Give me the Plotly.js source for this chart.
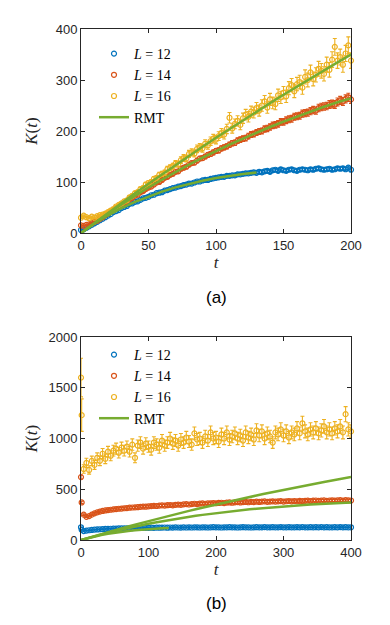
<!DOCTYPE html>
<html>
<head>
<meta charset="utf-8">
<script src="https://cdn.plot.ly/plotly-3.0.1.min.js"></script>
<style>
  body { margin: 0; background: #fff; }
  #grafico { width: 390px; height: 625px; }
</style>
</head>
<body>
<div id="grafico"></div>
<script>
// panel (a): t = 0, 2, ..., 200
const blueA = [
  6, 7, 10, 13, 16, 19, 22, 25, 28, 31,
  34, 37, 41, 43, 45, 49, 51, 53, 57, 58,
  61, 62, 65, 68, 69, 71, 74, 75, 78, 79,
  80, 83, 84, 86, 88, 89, 91, 92, 94, 95,
  97, 97, 99, 101, 101, 103, 104, 104, 106, 107,
  108, 109, 110, 110, 112, 112, 113, 113, 115, 115,
  116, 117, 117, 118, 119, 118, 120, 119, 121, 122,
  120, 123, 124, 122, 125, 123, 122, 124, 125, 123,
  122, 124, 125, 124, 123, 125, 124, 126, 127, 125,
  124, 125, 126, 124, 125, 127, 126, 127, 125, 128,
  124];
const redA = [
  15, 14, 16, 17, 19, 22, 24, 28, 31, 35,
  38, 42, 45, 49, 52, 56, 58, 63, 66, 69,
  73, 75, 80, 82, 86, 89, 91, 95, 99, 100,
  104, 108, 110, 114, 116, 120, 121, 126, 128, 130,
  134, 137, 138, 142, 146, 147, 150, 153, 155, 158,
  161, 162, 166, 168, 170, 173, 176, 177, 181, 183,
  185, 186, 190, 193, 194, 197, 199, 200, 204, 205,
  208, 211, 212, 214, 218, 218, 221, 223, 224, 228,
  229, 230, 234, 235, 236, 239, 241, 240, 245, 247,
  248, 249, 252, 253, 252, 257, 260, 258, 263, 266,
  262];
const yellowA = [
  30, 34, 31, 29, 32, 30, 33, 35, 36, 38,
  41, 44, 47, 52, 55, 58, 62, 64, 70, 73,
  78, 80, 86, 88, 95, 98, 100, 106, 108, 114,
  116, 118, 125, 128, 131, 136, 135, 143, 147, 146,
  155, 158, 156, 165, 168, 166, 175, 172, 180, 185,
  183, 190, 196, 193, 204, 226, 205, 214, 220, 212,
  225, 232, 228, 238, 236, 245, 240, 250, 258, 246,
  262, 255, 253, 270, 266, 275, 268, 284, 290, 278,
  292, 296, 285, 306, 300, 315, 302, 310, 322, 318,
  312, 330, 320, 340, 365, 338, 345, 330, 352, 368,
  338];

// panel (b): first two times apart, then t = 4, 8, ..., 400
const tEarlyB = [0, 1];
const blueEarlyB = [125, 100];
const redEarlyB = [620, 370];
const yellowEarlyB = [1600, 1230];
const yellowEarlyErrB = [190, 160];
const blueB = [
  88, 92, 96, 99, 102, 104, 106, 107, 109, 110,
  111, 112, 113, 114, 115, 115, 116, 117, 117, 118,
  118, 119, 119, 120, 120, 121, 120, 122, 121, 122,
  123, 121, 123, 122, 124, 123, 122, 124, 123, 125,
  123, 124, 125, 123, 124, 125, 123, 124, 126, 124,
  125, 123, 125, 124, 126, 124, 125, 123, 125, 126,
  124, 125, 123, 125, 126, 124, 125, 127, 124, 125,
  126, 124, 125, 127, 125, 124, 126, 125, 124, 126,
  125, 127, 124, 125, 126, 124, 126, 125, 127, 124,
  126, 125, 124, 126, 125, 127, 125, 126, 124, 125];
const redB = [
  250, 228, 235, 250, 262, 272, 280, 286, 291, 295,
  298, 302, 305, 308, 310, 313, 315, 318, 320, 322,
  323, 327, 329, 328, 332, 334, 336, 335, 339, 341,
  339, 343, 345, 342, 347, 349, 346, 351, 353, 350,
  354, 357, 354, 359, 360, 357, 362, 361, 364, 362,
  365, 367, 364, 368, 370, 367, 371, 373, 370, 374,
  375, 372, 376, 374, 378, 375, 378, 380, 376, 379,
  381, 378, 381, 383, 379, 382, 384, 381, 384, 382,
  386, 383, 386, 388, 384, 387, 389, 385, 388, 390,
  386, 389, 391, 387, 390, 392, 388, 392, 390, 389];
const yellowB = [
  700, 760, 690, 780, 740, 810, 780, 850, 800, 870,
  830, 880, 900, 860, 910, 880, 920, 870, 940, 810,
  930, 960, 900, 950, 920, 890, 960, 940, 910, 980,
  930, 960, 1000, 950, 980, 930, 990, 960, 1010, 970,
  940, 1050, 990, 1000, 960, 1020, 980, 1060, 1000, 1010,
  970, 1040, 1000, 1060, 990, 1020, 1050, 1000, 1030, 980,
  1060, 1010, 1040, 990, 1080, 1030, 1070, 1000, 1050, 1020,
  960, 1060, 1040, 1090, 1030, 1070, 1010, 1060, 1040, 1100,
  1050, 1150, 1070, 1040, 1090, 1060, 1100, 1050, 1080, 1120,
  1060, 1090, 1050, 1100, 1070, 1120, 1060, 1240, 1090, 1070];

// RMT curves, t = 0, 10, 20, ...
const rmt12 = [0, 18.6, 34.7, 48.8, 61.0, 71.8, 81.2, 89.4, 96.5, 102.6, 107.8, 112.1, 115.7, 118.5];
const rmt14 = [0, 19.5, 38.2, 56.0, 73.0, 89.2, 104.8, 119.7, 133.9, 147.6,
  160.7, 173.2, 185.2, 196.8, 207.8, 218.4, 228.5, 238.3, 247.6, 256.5,
  265.0, 273.2, 281.0, 288.4, 295.5, 302.3, 308.8, 315.0, 320.9, 326.4,
  331.7, 336.7, 341.4, 345.9, 350.1, 354.1, 357.8, 361.3, 364.5, 367.5, 370.3];
const rmt16 = [0, 19.9, 39.4, 58.8, 77.8, 96.6, 115.1, 133.4, 151.4, 169.2,
  186.7, 204.0, 221.1, 238.0, 254.6, 271.0, 287.2, 303.2, 319.0, 334.6,
  350.0, 365.2, 380.2, 395.0, 409.6, 424.0, 438.3, 452.4, 466.3, 480.0,
  493.5, 506.9, 520.1, 533.1, 546.0, 558.7, 571.3, 583.7, 596.0, 608.1, 620.0];

const nombres = ['<i>L</i> = 12', '<i>L</i> = 14', '<i>L</i> = 16'];
const colores = ['#0072BD', '#D95319', '#EDB120'];
const verde = '#77AC30';

function puntos(y, x0, dx, i, pct, ejes, leyenda, mostrar) {
  return {
    type: 'scatter', mode: 'markers',
    x0: x0, dx: dx, y: y,
    xaxis: ejes[0], yaxis: ejes[1],
    name: nombres[i], legend: leyenda, showlegend: mostrar,
    legendgroup: leyenda + i,
    cliponaxis: false,
    marker: { symbol: 'circle-open', size: 5, color: colores[i], line: { width: 1.2 } },
    error_y: { type: 'percent', value: pct, thickness: 1.1, width: 2, color: colores[i] }
  };
}

function rmt(y, ejes, leyenda, mostrar) {
  return {
    type: 'scatter', mode: 'lines',
    x0: 0, dx: 10, y: y,
    xaxis: ejes[0], yaxis: ejes[1],
    name: 'RMT', legend: leyenda, showlegend: mostrar,
    legendgroup: leyenda + 'rmt',
    line: { color: verde, width: 2.5 }
  };
}

const ejesA = ['x', 'y'];
const ejesB = ['x2', 'y2'];

let data = [
  puntos(blueA, 0, 2, 0, 2.5, ejesA, 'legend', true),
  puntos(redA, 0, 2, 1, 3, ejesA, 'legend', true),
  puntos(yellowA, 0, 2, 2, 4.5, ejesA, 'legend', true),
  rmt(rmt12, ejesA, 'legend', true),
  rmt(rmt14, ejesA, 'legend', false),
  rmt(rmt16, ejesA, 'legend', false),

  puntos(blueB, 4, 4, 0, 2, ejesB, 'legend2', true),
  puntos(redB, 4, 4, 1, 3, ejesB, 'legend2', true),
  puntos(yellowB, 4, 4, 2, 6, ejesB, 'legend2', true),
  rmt(rmt12, ejesB, 'legend2', true),
  rmt(rmt14, ejesB, 'legend2', false),
  rmt(rmt16, ejesB, 'legend2', false)
];

// the first two times of panel (b)
let tempranos = [blueEarlyB, redEarlyB, yellowEarlyB].map((y, i) => {
  let tr = puntos(y, 0, 1, i, 3, ejesB, 'legend2', false);
  delete tr.x0; delete tr.dx;
  tr.x = tEarlyB;
  if (i === 2) tr.error_y = { type: 'data', array: yellowEarlyErrB, thickness: 1.1, width: 2, color: colores[i] };
  return tr;
});
data = tempranos.concat(data);

const tinta = '#262626';
const fuenteTicks = { family: 'Liberation Sans, Arial, sans-serif', size: 13, color: tinta };
const fuenteTitulo = { family: 'Liberation Serif, Times New Roman, serif', size: 17, color: tinta };

function eje(extra) {
  return Object.assign({
    showline: true, linecolor: tinta, linewidth: 1, mirror: 'ticks',
    ticks: 'inside', ticklen: 4, tickcolor: tinta, tickwidth: 1,
    showgrid: false, zeroline: false, tickfont: fuenteTicks
  }, extra);
}

const leyendaBase = {
  xanchor: 'left', yanchor: 'top', bgcolor: 'rgba(0,0,0,0)', borderwidth: 0,
  tracegroupgap: 0,
  font: { family: 'Liberation Serif, Times New Roman, serif', size: 14, color: '#000' }
};

let layout = {
  width: 390, height: 625,
  margin: { l: 0, r: 0, t: 0, b: 0 },
  paper_bgcolor: '#fff', plot_bgcolor: '#fff',
  showlegend: true,
  xaxis: eje({ domain: [0.2077, 0.9], range: [0, 200], dtick: 50, anchor: 'y',
    title: { text: '<i>t</i>', font: fuenteTitulo, standoff: 4 } }),
  yaxis: eje({ domain: [0.6272, 0.9536], range: [0, 400], dtick: 100, anchor: 'x',
    title: { text: '<i>K</i>(<i>t</i>)', font: fuenteTitulo } }),
  xaxis2: eje({ domain: [0.2077, 0.9], range: [0, 400], dtick: 100, anchor: 'y2',
    title: { text: '<i>t</i>', font: fuenteTitulo, standoff: 4 } }),
  yaxis2: eje({ domain: [0.136, 0.4608], range: [0, 2000], dtick: 500, anchor: 'x2',
    title: { text: '<i>K</i>(<i>t</i>)', font: fuenteTitulo } }),
  legend: Object.assign({ x: 94 / 390, y: 1 - 38 / 625 }, leyendaBase),
  legend2: Object.assign({ x: 94 / 390, y: 1 - 339 / 625 }, leyendaBase),
  annotations: [
    { text: '(a)', x: 0.554, y: 1 - 297 / 625, xref: 'paper', yref: 'paper', showarrow: false,
      xanchor: 'center', yanchor: 'middle', font: { family: 'Liberation Sans, Arial, sans-serif', size: 17, color: '#000' } },
    { text: '(b)', x: 0.554, y: 1 - 603 / 625, xref: 'paper', yref: 'paper', showarrow: false,
      xanchor: 'center', yanchor: 'middle', font: { family: 'Liberation Sans, Arial, sans-serif', size: 17, color: '#000' } }
  ]
};

let config = { staticPlot: true };

Plotly.newPlot('grafico', data, layout, config);
</script>
</body>
</html>
